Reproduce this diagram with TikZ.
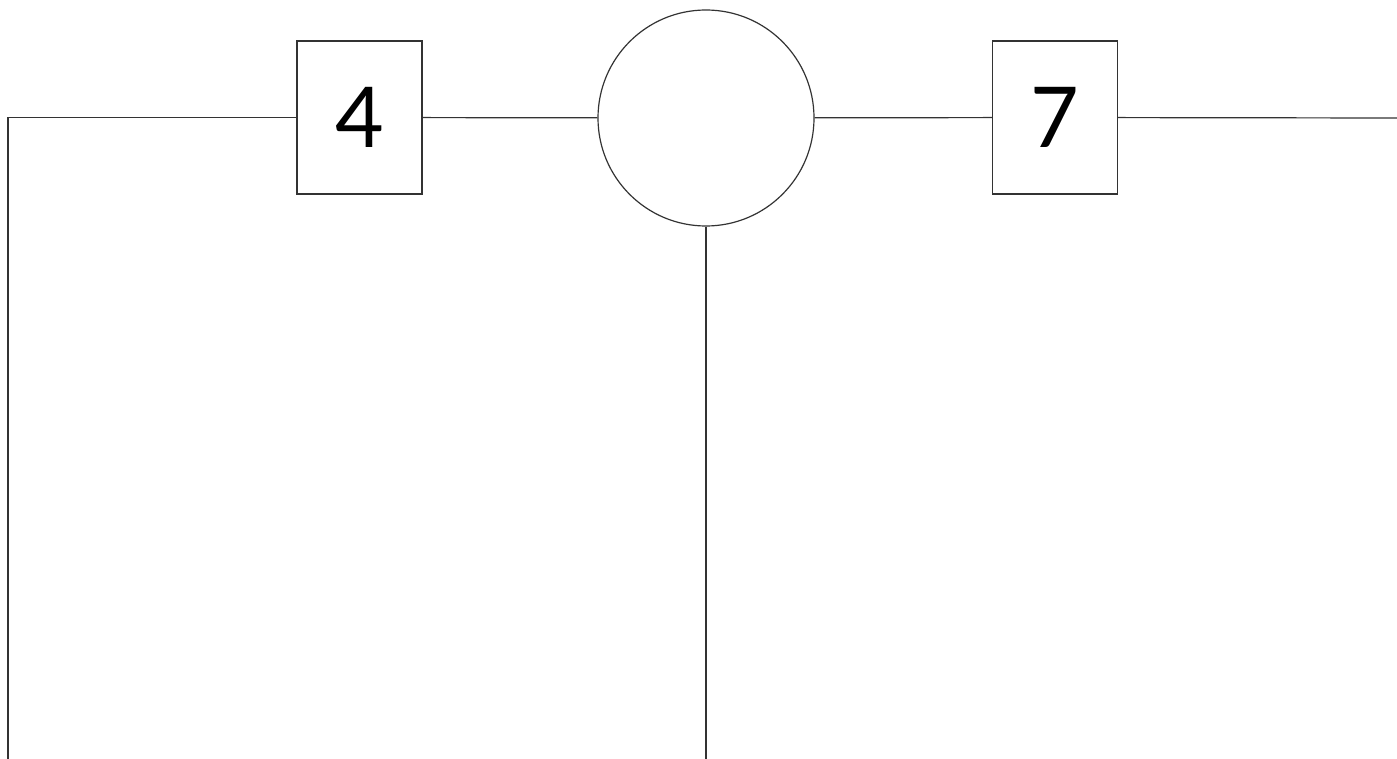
\documentclass[tikz,border=0pt]{standalone}
\usepackage{fontspec}
\setsansfont{Lato}
\begin{document}
\begin{tikzpicture}[x=0.5pt, y=-0.5pt, line width=0.6pt, draw=black!80,
  every node/.style={font=\sffamily\fontsize{42}{42}\selectfont},
  digitbox/.style={draw=black!80, rectangle, inner sep=0pt, minimum width=62.5pt, minimum height=76.5pt},
  joint/.style={draw=black!80, circle, inner sep=0pt, minimum size=108pt}]
  \useasboundingbox (0, 0) rectangle (1397, 759);
  \node[digitbox] (four) at (359.5, 117.5) {4};
  \node[joint] (mid) at (706, 118) {};
  \node[digitbox] (seven) at (1055, 117.5) {7};
  \coordinate (leftend) at (8, 759);
  \coordinate (midend) at (706, 759);
  \coordinate (rightend) at (1397, 118);
  \draw[black!80] (leftend) |- (four.west);
  \draw[black!80] (four) -- (mid);
  \draw[black!80] (mid) -- (seven);
  \draw[black!80] (seven) -- (rightend);
  \draw[black!80] (mid) -- (midend);
\end{tikzpicture}
\end{document}
